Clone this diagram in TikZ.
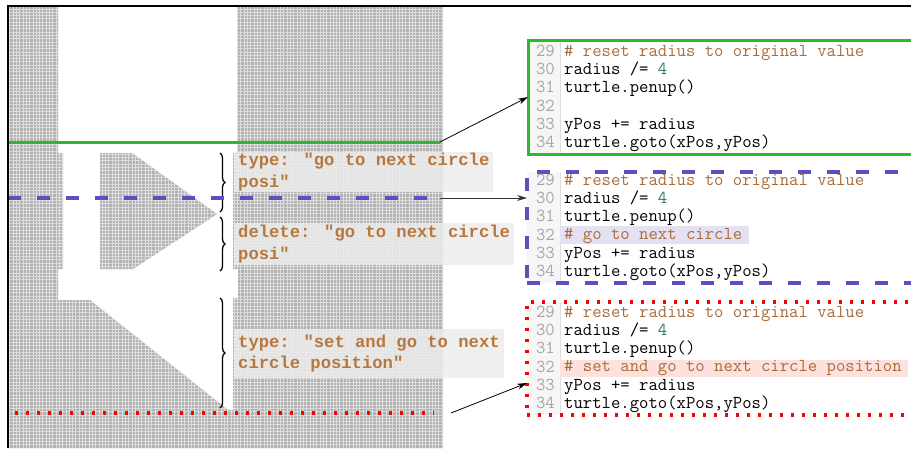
\documentclass[tikz,border=0pt]{standalone}
\usepackage{fontspec}
\usetikzlibrary{arrows.meta,patterns.meta,decorations.pathreplacing,positioning}

\newfontfamily\notemono{Liberation Mono}

\definecolor{spritegray}{RGB}{178,178,178}
\definecolor{spritegrid}{RGB}{222,222,222}
\definecolor{keepgreen}{RGB}{44,186,44}
\definecolor{deleteblue}{RGB}{92,80,192}
\definecolor{typered}{RGB}{250,0,0}
\definecolor{notebrown}{RGB}{183,120,62}
\definecolor{commentbrown}{RGB}{168,108,58}
\definecolor{numbergreen}{RGB}{48,122,92}
\definecolor{gutterbg}{RGB}{246,246,246}
\definecolor{markblue}{RGB}{228,225,243}
\definecolor{markred}{RGB}{253,225,221}

\newcommand{\codefont}{\ttfamily\fontsize{18.2}{18.2}\selectfont}
\newcommand{\notefont}{\notemono\bfseries\fontsize{17.2}{21.5}\selectfont}
\newcommand{\cmt}[1]{\textcolor{commentbrown}{#1}}

\tikzset{
  sprite/.style={fill=spritegray,
    postaction={pattern={Lines[angle=0,distance=3.3pt,line width=1pt]}, pattern color=spritegrid},
    postaction={pattern={Lines[angle=90,distance=3.3pt,line width=1pt]}, pattern color=spritegrid}},
  note/.style={anchor=north west, fill={rgb,255:red,236;green,236;blue,236}, fill opacity=0.85,
    text opacity=1, text=notebrown, font=\notefont, align=left, inner xsep=4pt, inner ysep=0pt},
  codebox/.style={anchor=north west, minimum width=420pt, inner sep=0pt, outer sep=0pt},
  codetext/.style={anchor=north west, font=\codefont, align=left, inner sep=0pt},
  linenums/.style={anchor=north east, font=\codefont, align=right, inner sep=0pt, text=gray!70},
  link/.style={-{Stealth[length=10pt,width=6pt]}, line width=0.8pt},
  curly/.style={decorate, decoration={brace, amplitude=5pt}, line width=1.3pt},
}

\begin{document}
\begin{tikzpicture}[x=1pt,y=-1pt]
\useasboundingbox (0,0) rectangle (911,448);

% the sprite
\fill[sprite] (8,6) -- (58,6) -- (58,153) -- (63,153) -- (63,269) -- (58,269) -- (58,300)
  -- (90,300) -- (228,410) -- (228,448) -- (8,448) -- cycle;
\fill[sprite] (237,6) -- (443,6) -- (443,448) -- (228,448) -- (228,410) -- (233,410) -- (233,298)
  -- (238,298) -- (238,269) -- (233,269) -- (233,153) -- (237,153) -- cycle;
\fill[sprite] (100,153) -- (132,153) -- (217,214) -- (133,269) -- (100,269) -- cycle;

% edit steps
\node[note, minimum height=40pt] (typefirst) at (234,152) {type: "go to next circle\\posi"};
\node[note, minimum height=42pt] (deletefirst) at (234,223) {delete: "go to next circle\\posi"};
\node[note, minimum height=49pt] (typesecond) at (234,329) {type: "set and go to next\\circle position"};

\draw[curly] (220,153) -- (220,212);
\draw[curly] (220,217) -- (220,271);
\draw[curly] (220,298) -- (220,408);

% cut lines
\coordinate (keepstart) at (8,142);
\coordinate (keepend) at (440,142);
\coordinate (deletestart) at (8,198);
\coordinate (deleteend) at (432,198);
\coordinate (deletefrom) at (440,198);
\coordinate (typestart) at (15,413);
\coordinate (typeend) at (434,413);
\coordinate (typefrom) at (451,413);
\draw[keepgreen, line width=3pt] (keepstart) -- (keepend);
\draw[deleteblue, line width=3.5pt, dash pattern=on 13pt off 16pt] (deletestart) -- (deleteend);
\draw[typered, line width=3.3pt, dash pattern=on 3.3pt off 7.7pt] (typestart) -- (typeend);

\draw[line width=2pt] (8,448) -- (8,6) -- (911,6);

% code views
\fill[gutterbg] (528,40) rectangle (560,154);
\fill[gutterbg] (527,172) rectangle (560,283);
\fill[gutterbg] (527,302) rectangle (560,415);
\draw[gray!25] (560,40) -- (560,154);
\draw[gray!25] (560,172) -- (560,283);
\draw[gray!25] (560,302) -- (560,415);
\fill[markblue] (560,226) rectangle (749,244);
\fill[markred] (560,360) rectangle (908,377);

\node[codebox, draw=keepgreen, line width=3pt, minimum height=114pt] (keepbox) at (528,40) {};
\node[codebox, draw=deleteblue, line width=3.5pt, dash pattern=on 13pt off 16pt, minimum height=111pt] (deletebox) at (527,172) {};
\node[codebox, draw=typered, line width=3.3pt, dash pattern=on 3.3pt off 7.7pt, minimum height=113pt] (typebox) at (527,302) {};

\node[linenums] (keepnums) at (555,45) {29\\30\\31\\32\\33\\34};
\node[codetext] (keepcode) at (564,45) {\cmt{\# reset radius to original value}\\radius /= \textcolor{numbergreen}{4}\\turtle.penup()\\\mbox{}\\yPos += radius\\turtle.goto(xPos,yPos)};
\node[linenums] (deletenums) at (555,174) {29\\30\\31\\32\\33\\34};
\node[codetext] (deletecode) at (564,174) {\cmt{\# reset radius to original value}\\radius /= \textcolor{numbergreen}{4}\\turtle.penup()\\\cmt{\# go to next circle}\\yPos += radius\\turtle.goto(xPos,yPos)};
\node[linenums] (typenums) at (555,306) {29\\30\\31\\32\\33\\34};
\node[codetext] (typecode) at (564,306) {\cmt{\# reset radius to original value}\\radius /= \textcolor{numbergreen}{4}\\turtle.penup()\\\cmt{\# set and go to next circle position}\\yPos += radius\\turtle.goto(xPos,yPos)};

\draw[link] (keepend) -- (keepbox.west);
\draw[link, black!80] (deletefrom) -- (deletebox.west |- deletefrom);
\draw[link] (typefrom) -- ([yshift=-24.5pt]typebox.west);
\end{tikzpicture}
\end{document}
